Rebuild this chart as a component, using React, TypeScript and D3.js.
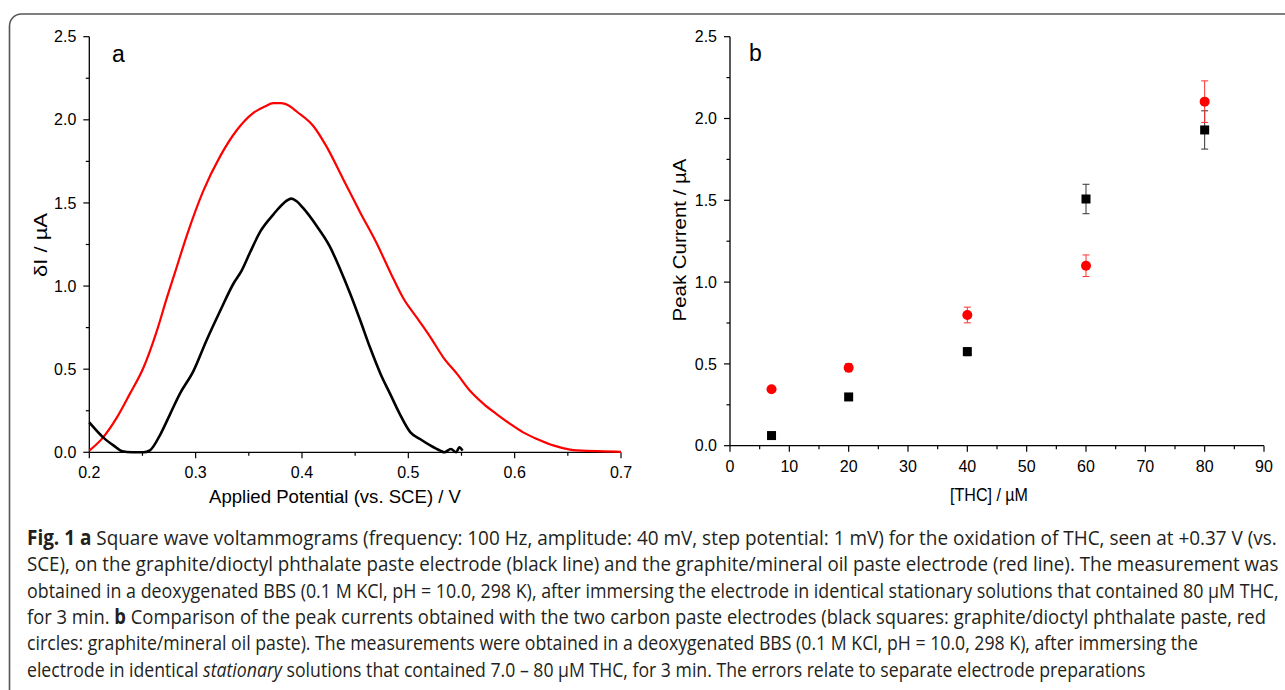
import React, { useLayoutEffect, useRef, useState } from "react";
import * as d3 from "d3";

// Panel a: square wave voltammograms (potential in V, current in µA)
const potentialRed = [0.2, 0.213, 0.226, 0.238, 0.251, 0.263, 0.273, 0.281, 0.292, 0.307, 0.323, 0.339, 0.354, 0.365, 0.373, 0.38, 0.389, 0.395, 0.411, 0.423, 0.439, 0.455, 0.47, 0.484, 0.495, 0.508, 0.521, 0.533, 0.546, 0.558, 0.571, 0.583, 0.596, 0.608, 0.621, 0.637, 0.652, 0.668, 0.684, 0.7];
const currentRed = [0.01, 0.09, 0.21, 0.35, 0.51, 0.72, 0.93, 1.09, 1.31, 1.57, 1.78, 1.94, 2.04, 2.08, 2.1, 2.1, 2.08, 2.05, 1.96, 1.84, 1.64, 1.44, 1.26, 1.07, 0.93, 0.81, 0.69, 0.57, 0.47, 0.37, 0.29, 0.23, 0.17, 0.12, 0.08, 0.04, 0.016, 0.008, 0.006, 0.003];

const potentialBlack = [0.2, 0.213, 0.223, 0.231, 0.24, 0.251, 0.257, 0.267, 0.276, 0.285, 0.298, 0.31, 0.323, 0.336, 0.343, 0.351, 0.361, 0.373, 0.383, 0.39, 0.395, 0.401, 0.414, 0.426, 0.436, 0.445, 0.455, 0.464, 0.474, 0.483, 0.492, 0.502, 0.511, 0.521, 0.53, 0.534, 0.54, 0.545, 0.548, 0.551];
const currentBlack = [0.18, 0.09, 0.04, 0.006, 0.0, 0.0, 0.012, 0.11, 0.23, 0.35, 0.49, 0.67, 0.85, 1.02, 1.09, 1.2, 1.33, 1.43, 1.5, 1.526, 1.51, 1.47, 1.36, 1.24, 1.1, 0.96, 0.79, 0.63, 0.47, 0.35, 0.23, 0.12, 0.08, 0.04, 0.01, 0.0, 0.02, 0.0, 0.03, 0.01];

// Panel b: peak currents vs [THC]
const concentrations = [7, 20, 40, 60, 80];
const peakBlack = [0.062, 0.298, 0.575, 1.508, 1.93];
const errBlack = [0.012, 0.015, 0.025, 0.09, 0.117];
const peakRed = [0.345, 0.477, 0.799, 1.1, 2.103];
const errRed = [0.012, 0.025, 0.048, 0.066, 0.127];

// Axis ticks
const xMajorA = [0.2, 0.3, 0.4, 0.5, 0.6, 0.7];
const yMajor = [0, 0.5, 1.0, 1.5, 2.0, 2.5];
const xMajorB = [0, 10, 20, 30, 40, 50, 60, 70, 80, 90];

// Caption lines
const captionLines: { parts: { t: string; b?: boolean; i?: boolean }[]; end: number }[] = [
  { parts: [{ t: "Fig. 1 a", b: true }, { t: " Square wave voltammograms (frequency: 100 Hz, amplitude: 40 mV, step potential: 1 mV) for the oxidation of THC, seen at +0.37 V (vs." }], end: 1278 },
  { parts: [{ t: "SCE), on the graphite/dioctyl phthalate paste electrode (black line) and the graphite/mineral oil paste electrode (red line). The measurement was" }], end: 1279 },
  { parts: [{ t: "obtained in a deoxygenated BBS (0.1 M KCl, pH = 10.0, 298 K), after immersing the electrode in identical stationary solutions that contained 80 µM THC," }], end: 1279 },
  { parts: [{ t: "for 3 min. " }, { t: "b", b: true }, { t: " Comparison of the peak currents obtained with the two carbon paste electrodes (black squares: graphite/dioctyl phthalate paste, red" }], end: 1266 },
  { parts: [{ t: "circles: graphite/mineral oil paste). The measurements were obtained in a deoxygenated BBS (0.1 M KCl, pH = 10.0, 298 K), after immersing the" }], end: 1199 },
  { parts: [{ t: "electrode in identical " }, { t: "stationary", i: true }, { t: " solutions that contained 7.0 – 80 µM THC, for 3 min. The errors relate to separate electrode preparations" }], end: 1146 },
];

const TICK_FONT = "'Liberation Sans', Arial, sans-serif";
const CAP_FONT = "'Open Sans', 'Noto Sans', sans-serif";
const CAP_X = 27;

function Axes({ x, y, xMajor, xFmt }: any) {
  const [x0, x1] = x.range();
  const [y0, y1] = y.range();
  const xMinor: number[] = [];
  for (let i = 0; i < xMajor.length - 1; i++) xMinor.push((xMajor[i] + xMajor[i + 1]) / 2);
  const yMinor: number[] = [];
  for (let i = 0; i < yMajor.length - 1; i++) yMinor.push((yMajor[i] + yMajor[i + 1]) / 2);
  const fmtY = d3.format(".1f");
  return (
    <g>
      <line x1={x0} x2={x1} y1={y0} y2={y0} stroke="#000" strokeWidth={1.3} />
      <line x1={x0} x2={x0} y1={y0} y2={y1} stroke="#000" strokeWidth={1.3} />
      {xMajor.map((t: number) => (
        <g key={"xm" + t}>
          <line x1={x(t)} x2={x(t)} y1={y0} y2={y0 + 6} stroke="#000" strokeWidth={1.2} />
          <text x={x(t)} y={y0 + 26} textAnchor="middle" fontSize={16} fontFamily={TICK_FONT}>{xFmt(t)}</text>
        </g>
      ))}
      {xMinor.map((t: number) => (
        <line key={"xn" + t} x1={x(t)} x2={x(t)} y1={y0} y2={y0 + 3.5} stroke="#000" strokeWidth={1.2} />
      ))}
      {yMajor.map((t: number) => (
        <g key={"ym" + t}>
          <line x1={x0 - 6} x2={x0} y1={y(t)} y2={y(t)} stroke="#000" strokeWidth={1.2} />
          <text x={x0 - 13} y={y(t)} dy="0.35em" textAnchor="end" fontSize={16} fontFamily={TICK_FONT}>{fmtY(t)}</text>
        </g>
      ))}
      {yMinor.map((t: number) => (
        <line key={"yn" + t} x1={x0 - 3.5} x2={x0} y1={y(t)} y2={y(t)} stroke="#000" strokeWidth={1.2} />
      ))}
    </g>
  );
}

export default function App() {
  const xA = d3.scaleLinear().domain([0.2, 0.7]).range([89.3, 621]);
  const yA = d3.scaleLinear().domain([0, 2.5]).range([452.3, 36.7]);
  const xB = d3.scaleLinear().domain([0, 90]).range([730, 1264]);
  const yB = d3.scaleLinear().domain([0, 2.5]).range([445.7, 36.7]);

  const lineA = d3.line<[number, number]>().x((d) => xA(d[0])).y((d) => yA(d[1])).curve(d3.curveMonotoneX);
  const redPts = potentialRed.map((p, i) => [p, currentRed[i]] as [number, number]);
  const blackPts = potentialBlack.map((p, i) => [p, currentBlack[i]] as [number, number]);

  const capRefs = useRef<(SVGTextElement | null)[]>([]);
  const [capScale, setCapScale] = useState<number[] | null>(null);
  useLayoutEffect(() => {
    const s = captionLines.map((ln, i) => {
      const el = capRefs.current[i];
      if (!el) return 1;
      const w = el.getComputedTextLength();
      return w > 0 ? (ln.end - CAP_X) / w : 1;
    });
    setCapScale(s);
  }, []);

  return (
    <svg width={1285} height={690} style={{ position: "absolute", left: 0, top: 0, background: "#fff" }}>
      <rect x={0} y={0} width={1285} height={690} fill="#fff" />
      <rect x={9.5} y={14} width={1310} height={720} rx={12} ry={12} fill="none" stroke="#555" strokeWidth={1.6} />

      {/* Panel a */}
      <Axes x={xA} y={yA} xMajor={xMajorA} xFmt={d3.format(".1f")} />
      <path d={lineA(redPts) || ""} fill="none" stroke="#ff0000" strokeWidth={2.2} strokeLinejoin="round" />
      <path d={lineA(blackPts) || ""} fill="none" stroke="#000" strokeWidth={2.6} strokeLinejoin="round" />
      <text x={112} y={62} fontSize={23} fontFamily={TICK_FONT}>a</text>
      <text x={335} y={503} textAnchor="middle" fontSize={19} fontFamily={TICK_FONT} textLength={252} lengthAdjust="spacingAndGlyphs">Applied Potential (vs. SCE) / V</text>
      <text transform={`translate(47,245) rotate(-90)`} textAnchor="middle" fontSize={19} fontFamily={TICK_FONT} textLength={64} lengthAdjust="spacingAndGlyphs">δI  / µA</text>

      {/* Panel b */}
      <Axes x={xB} y={yB} xMajor={xMajorB} xFmt={d3.format("d")} />
      {concentrations.map((c, i) => (
        <g key={"eb" + c}>
          <line x1={xB(c)} x2={xB(c)} y1={yB(peakBlack[i] - errBlack[i])} y2={yB(peakBlack[i] + errBlack[i])} stroke="#333" strokeWidth={1} />
          <line x1={xB(c) - 3.5} x2={xB(c) + 3.5} y1={yB(peakBlack[i] - errBlack[i])} y2={yB(peakBlack[i] - errBlack[i])} stroke="#333" strokeWidth={1} />
          <line x1={xB(c) - 3.5} x2={xB(c) + 3.5} y1={yB(peakBlack[i] + errBlack[i])} y2={yB(peakBlack[i] + errBlack[i])} stroke="#333" strokeWidth={1} />
          <rect x={xB(c) - 4.5} y={yB(peakBlack[i]) - 4.5} width={9} height={9} fill="#000" />
        </g>
      ))}
      {concentrations.map((c, i) => (
        <g key={"er" + c}>
          <line x1={xB(c)} x2={xB(c)} y1={yB(peakRed[i] - errRed[i])} y2={yB(peakRed[i] + errRed[i])} stroke="#ff3030" strokeWidth={1} />
          <line x1={xB(c) - 3.5} x2={xB(c) + 3.5} y1={yB(peakRed[i] - errRed[i])} y2={yB(peakRed[i] - errRed[i])} stroke="#ff3030" strokeWidth={1} />
          <line x1={xB(c) - 3.5} x2={xB(c) + 3.5} y1={yB(peakRed[i] + errRed[i])} y2={yB(peakRed[i] + errRed[i])} stroke="#ff3030" strokeWidth={1} />
          <circle cx={xB(c)} cy={yB(peakRed[i])} r={5} fill="#ff0000" />
        </g>
      ))}
      <text x={749} y={61} fontSize={23} fontFamily={TICK_FONT}>b</text>
      <text x={989} y={501} textAnchor="middle" fontSize={19} fontFamily={TICK_FONT} textLength={78} lengthAdjust="spacingAndGlyphs">[THC] / µM</text>
      <text transform={`translate(686,240) rotate(-90)`} textAnchor="middle" fontSize={19} fontFamily={TICK_FONT} textLength={163} lengthAdjust="spacingAndGlyphs">Peak Current  / µA</text>

      {/* Caption */}
      {captionLines.map((ln, i) => (
        <text
          key={"cap" + i}
          ref={(el) => { capRefs.current[i] = el; }}
          x={0}
          y={0}
          transform={`translate(${CAP_X},${545 + i * 26.3}) scale(${capScale ? capScale[i] : 1},1)`}
          fontSize={20.5}
          fontFamily={CAP_FONT}
          fill="#231f20"
          visibility={capScale ? "visible" : "hidden"}
        >
          {ln.parts.map((p, j) => (
            <tspan key={j} fontWeight={p.b ? 700 : 400} fontStyle={p.i ? "italic" : "normal"}>{p.t}</tspan>
          ))}
        </text>
      ))}
    </svg>
  );
}
